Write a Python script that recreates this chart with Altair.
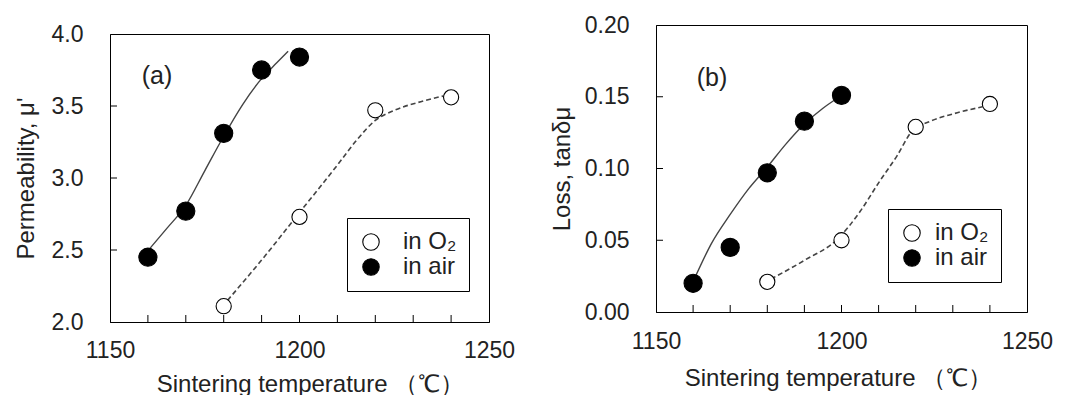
import altair as alt
import pandas as pd

# ---------------- data ----------------
series_names = ["in O₂", "in air"]

# panel (a): permeability
temp_air = [1160, 1170, 1180, 1190, 1200]
mu_air = [2.45, 2.77, 3.31, 3.75, 3.84]
temp_o2 = [1180, 1200, 1220, 1240]
mu_o2 = [2.11, 2.73, 3.47, 3.56]

# panel (b): loss
loss_air = [0.020, 0.045, 0.097, 0.133, 0.151]
loss_o2 = [0.021, 0.050, 0.129, 0.145]

# trend curves
curve_a_air_t = [1160.5, 1165, 1170, 1175, 1180, 1185, 1190, 1194, 1197]
curve_a_air_v = [2.51, 2.65, 2.81, 3.05, 3.29, 3.51, 3.69, 3.80, 3.88]
curve_a_o2_t = [1181, 1190, 1200, 1210, 1215, 1220, 1225, 1232, 1238]
curve_a_o2_v = [2.15, 2.43, 2.76, 3.09, 3.26, 3.40, 3.47, 3.53, 3.57]
curve_b_air_t = [1160.5, 1165, 1170, 1175, 1180, 1185, 1190, 1195, 1199.5]
curve_b_air_v = [0.024, 0.048, 0.068, 0.086, 0.101, 0.117, 0.131, 0.142, 0.150]
curve_b_o2_t = [1181, 1190, 1199, 1205, 1210, 1215, 1219, 1224, 1230, 1238]
curve_b_o2_v = [0.023, 0.036, 0.051, 0.070, 0.090, 0.109, 0.126, 0.133, 0.138, 0.143]

x_labels = [1150, 1200, 1250]
x_minor = [1160, 1170, 1180, 1190, 1200, 1210, 1220, 1230, 1240]
a_yticks = [2.0, 2.5, 3.0, 3.5, 4.0]
a_yminor = [2.5, 3.0, 3.5]
b_yticks = [0.0, 0.05, 0.10, 0.15, 0.20]
b_yminor = [0.05, 0.10, 0.15]

FONT = "Liberation Sans"
INK = "#222222"
LINE = "#444444"


def panel(w, h, ydom, yticks, yminor, yfmt, ytitle, air_v, o2_v,
          c_air_t, c_air_v, c_o2_t, c_o2_v, tag, tag_x, tag_y,
          leg_x, leg_y, leg_pad, leg_off, ytitle_pad, xlab_pad, xtitle_pad, xtitle_x):
    xs = alt.Scale(domain=[1150, 1250], nice=False, zero=False)
    ys = alt.Scale(domain=ydom, nice=False, zero=False)
    xaxis = alt.Axis(values=x_labels, format="d", title="Sintering temperature （℃）",
                     ticks=False, labelFlush=False, labelOverlap=False,
                     labelPadding=xlab_pad, titlePadding=xtitle_pad, titleX=xtitle_x, grid=False,
                     labelFont=FONT, titleFont=FONT, labelFontSize=23, titleFontSize=24,
                     labelColor=INK, titleColor=INK, titleFontWeight="normal", domainColor="black")
    yaxis = alt.Axis(values=yticks, format=yfmt, title=ytitle, ticks=False,
                     labelFlush=False, labelOverlap=False, labelPadding=27,
                     titlePadding=ytitle_pad, grid=False,
                     labelFont=FONT, titleFont=FONT, labelFontSize=23, titleFontSize=24,
                     labelColor=INK, titleColor=INK, titleFontWeight="normal", domainColor="black")

    df_o2 = pd.DataFrame({"t": temp_o2, "v": o2_v, "s": [series_names[0]] * len(temp_o2)})
    df_air = pd.DataFrame({"t": temp_air, "v": air_v, "s": [series_names[1]] * len(temp_air)})
    c_air = pd.DataFrame({"t": c_air_t, "v": c_air_v})
    c_o2 = pd.DataFrame({"t": c_o2_t, "v": c_o2_v})

    line_air = alt.Chart(c_air).mark_line(color=LINE, strokeWidth=1.4, interpolate="monotone").encode(
        x=alt.X("t:Q", scale=xs, axis=xaxis), y=alt.Y("v:Q", scale=ys, axis=yaxis))
    line_o2 = alt.Chart(c_o2).mark_line(color=LINE, strokeWidth=1.6, strokeDash=[5, 3],
                                        interpolate="monotone").encode(
        x=alt.X("t:Q", scale=xs), y=alt.Y("v:Q", scale=ys))

    fill_enc = alt.Fill("s:N", scale=alt.Scale(domain=series_names, range=["white", "black"]),
                        legend=alt.Legend(title=None, orient="none", legendX=leg_x, legendY=leg_y,
                                          strokeColor="black", padding=leg_pad, symbolType="circle",
                                          symbolSize=270, symbolStrokeColor="black",
                                          symbolStrokeWidth=1.1, labelFontSize=24,
                                          labelFont=FONT, labelColor=INK, labelOffset=leg_off,
                                          rowPadding=1, fillColor="white"))

    p_o2 = alt.Chart(df_o2).mark_circle(stroke="black", strokeWidth=1.1, opacity=1, size=230).encode(
        x=alt.X("t:Q", scale=xs), y=alt.Y("v:Q", scale=ys), fill=fill_enc)
    p_air = alt.Chart(df_air).mark_circle(stroke="black", strokeWidth=1.1, opacity=1, size=330).encode(
        x=alt.X("t:Q", scale=xs), y=alt.Y("v:Q", scale=ys), fill=fill_enc)

    xt = alt.Chart(pd.DataFrame({"t": x_minor})).mark_rule(color="black", strokeWidth=1).encode(
        x=alt.X("t:Q", scale=xs), y=alt.value(h), y2=alt.value(h - 7))
    yt = alt.Chart(pd.DataFrame({"v": yminor})).mark_rule(color="black", strokeWidth=1).encode(
        y=alt.Y("v:Q", scale=ys), x=alt.value(0), x2=alt.value(7))

    tagc = alt.Chart(pd.DataFrame({"t": [tag_x], "v": [tag_y], "txt": [tag]})).mark_text(
        font=FONT, fontSize=25, color=INK).encode(
        x=alt.X("t:Q", scale=xs), y=alt.Y("v:Q", scale=ys), text="txt:N")

    return alt.layer(line_air, line_o2, p_o2, p_air, xt, yt, tagc).properties(width=w, height=h)


pa = panel(379, 288, [2.0, 4.0], a_yticks, a_yminor, ".1f", "Permeability, μ'",
           mu_air, mu_o2, curve_a_air_t, curve_a_air_v, curve_a_o2_t, curve_a_o2_v,
           "(a)", 1162.4, 3.71, 237, 193, 12, 20, 13, 17, 10, 200)
pb = panel(371, 287, [0.0, 0.2], b_yticks, b_yminor, ".2f", "Loss, tanδμ",
           loss_air, loss_o2, curve_b_air_t, curve_b_air_v, curve_b_o2_t, curve_b_o2_v,
           "(b)", 1165.1, 0.163, 232, 184, 12, 11, 10, 18, 13, 182)

# small invisible spacer that lowers panel (a) relative to panel (b), as in the reference
spacer = alt.Chart(pd.DataFrame({"z": [0]})).mark_rule(opacity=0).encode(
    x=alt.value(0), x2=alt.value(1), y=alt.value(0)
).properties(width=10, height=8, view=alt.ViewBackground(stroke="transparent"))

left = alt.vconcat(spacer, pa, spacing=-12)

chart = alt.hconcat(left, pb, spacing=33).resolve_scale(fill="independent").properties(
    padding={"left": 5, "top": 5, "right": 5, "bottom": 0}
).configure(background="white").configure_view(stroke="black", strokeWidth=1)

chart.save("out.html", embed_options={"renderer": "svg", "actions": False})
